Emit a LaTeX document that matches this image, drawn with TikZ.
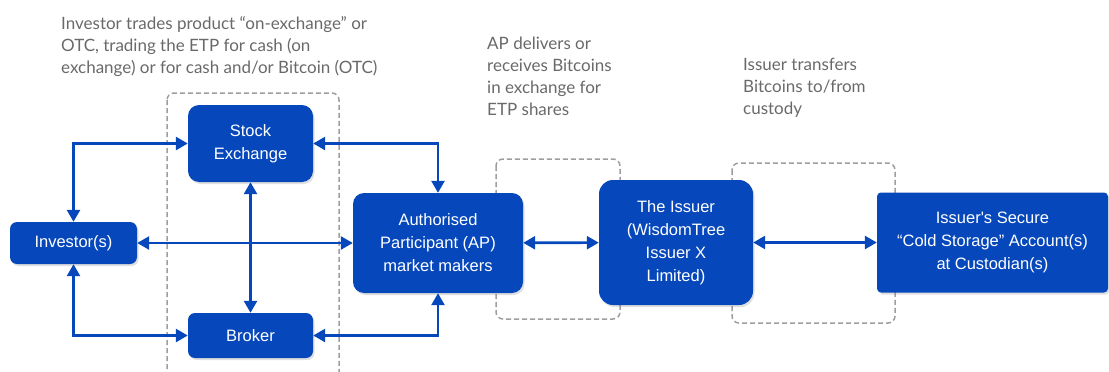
\documentclass[tikz,border=0pt]{standalone}
\usepackage{fontspec}
\setmainfont{Liberation Sans}
\newfontfamily\boxfont{Liberation Sans}
\newfontfamily\notefont{Lato}
\usetikzlibrary{arrows.meta,shadows}
\definecolor{boxblue}{RGB}{6,72,188}
\definecolor{notegray}{RGB}{105,105,105}
\definecolor{dashgray}{RGB}{158,158,158}
\begin{document}
\begin{tikzpicture}
[x=1pt,y=-1pt,
 box/.style={fill=boxblue,text=white,rounded corners=11pt,inner sep=0pt,align=center,
   font=\boxfont\fontsize{16.5}{23}\selectfont,
   drop shadow={shadow xshift=1.5pt,shadow yshift=-2pt,opacity=0.25}},
 note/.style={text=notegray,anchor=north west,inner sep=0pt,align=left,
   font=\notefont\fontsize{17}{22}\selectfont},
 group/.style={draw=dashgray,line width=1.5pt,dash pattern=on 5pt off 3pt,rounded corners=7pt},
 link/.style={draw=boxblue,line width=2.6pt,
   {Triangle[length=12pt,width=13pt]}-{Triangle[length=12pt,width=13pt]}}]
    \useasboundingbox (0,0) rectangle (1109,372);
    \clip (0,0) rectangle (1109,372);

    \draw[group] (167,93) rectangle (339,390);
    \draw[group] (496,159) rectangle (620,319);
    \draw[group] (732,163) rectangle (895,323);

    \node[box,minimum width=125pt,minimum height=77pt] (se) at (250.5,143.5) {Stock\\Exchange};
    \node[box,minimum width=127pt,minimum height=42pt,rounded corners=7pt] (inv) at (73.5,243) {Investor(s)};
    \node[box,minimum width=125pt,minimum height=45pt,rounded corners=7pt] (br) at (250.5,335.5) {Broker};
    \node[box,minimum width=170pt,minimum height=100pt] (ap) at (438,243) {Authorised\\Participant (AP)\\market makers};
    \node[box,minimum width=154pt,minimum height=125pt,rounded corners=14pt] (iss) at (676,242.5) {The Issuer\\(WisdomTree\\Issuer X\\Limited)};
    \node[box,minimum width=231pt,minimum height=100pt,rounded corners=4pt] (cold) at (992.5,242.5) {Issuer's Secure\\“Cold Storage” Account(s)\\at Custodian(s)};

    \node[note] (n1) at (61,16) {Investor trades product “on-exchange” or\\OTC, trading the ETP for cash (on\\exchange) or for cash and/or Bitcoin (OTC)};
    \node[note] (n2) at (487,37) {AP delivers or\\receives Bitcoins\\in exchange for\\ETP shares};
    \node[note] (n3) at (743,58) {Issuer transfers\\Bitcoins to/from\\custody};

    \draw[link] (inv) |- (se);
    \draw[link] (inv) |- (br);
    \draw[link] (se) -- (br);
    \draw[link] (inv) -- (ap);
    \draw[link] (se) -| (ap);
    \draw[link] (br) -| (ap);
    \draw[link] (ap) -- (iss);
    \draw[link] (iss) -- (cold);
\end{tikzpicture}
\end{document}
